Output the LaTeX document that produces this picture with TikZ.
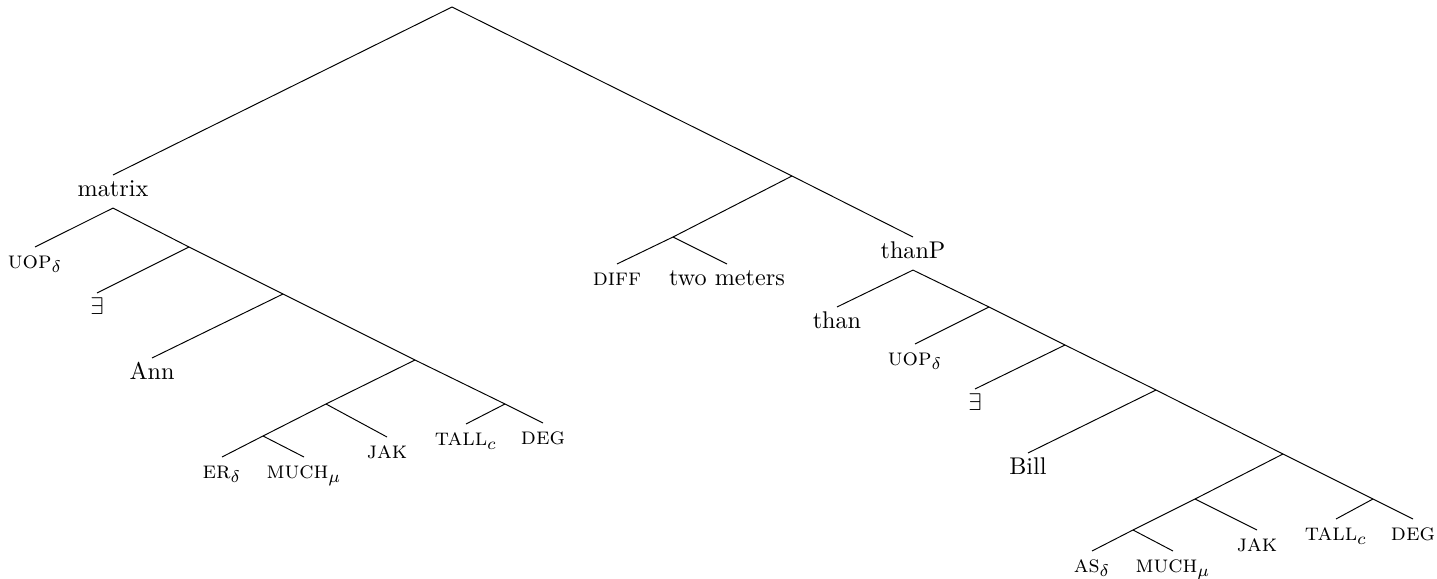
\documentclass[tikz,border=0pt]{standalone}
\begin{document}
\begin{tikzpicture}[x=0.414pt,y=-0.414pt,
  lab/.style={anchor=north,inner sep=2pt,text height=6.8pt,text depth=2.5pt},
  edge/.style={line width=0.4pt}]
\useasboundingbox (0,0) rectangle (1437,579);
% left part
\coordinate (r) at (452,7);
\node[lab] (matrix) at (113,175) {matrix};
\coordinate (n1) at (189,247);
\node[lab] (uopA) at (35,247) {\textsc{uop}$_\delta$};
\coordinate (n2) at (283,294);
\node[lab] (exA) at (97,293) {$\exists$};
\coordinate (n3) at (415,360);
\node[lab] (ann) at (152,358) {Ann};
\coordinate (n4) at (326,404);
\coordinate (n5) at (505,404);
\coordinate (n6) at (263,436);
\node[lab] (jakA) at (387,437) {\textsc{jak}};
\node[lab] (er) at (222,457) {\textsc{er}$_\delta$};
\node[lab] (muchA) at (304,457) {\textsc{much}$_\mu$};
\node[lab] (tallA) at (466,424) {\textsc{tall}$_c$};
\node[lab] (degA) at (543,423) {\textsc{deg}};
% right part
\coordinate (m1) at (792,176);
\coordinate (m2) at (673,237);
\node[lab] (diff) at (617,264) {\textsc{diff}};
\node[lab] (two) at (727,264) {two meters};
\node[lab] (thanP) at (913,237) {thanP};
\node[lab] (than) at (837,307) {than};
\coordinate (p1) at (989,307);
\node[lab] (uopB) at (915,344) {\textsc{uop}$_\delta$};
\coordinate (p2) at (1065,345);
\node[lab] (exB) at (975,389) {$\exists$};
\coordinate (p3) at (1156,390);
\node[lab] (bill) at (1028,453) {Bill};
\coordinate (p4) at (1283,454);
\coordinate (p5) at (1195,499);
\coordinate (p6) at (1373,499);
\coordinate (p7) at (1133,530);
\node[lab] (jakB) at (1257,530) {\textsc{jak}};
\node[lab] (as) at (1092,551) {\textsc{as}$_\delta$};
\node[lab] (muchB) at (1173,551) {\textsc{much}$_\mu$};
\node[lab] (tallB) at (1336,519) {\textsc{tall}$_c$};
\node[lab] (degB) at (1413,519) {\textsc{deg}};
% edges
\draw[edge] (r) -- (matrix.north);
\draw[edge] (r) -- (m1);
\draw[edge] (matrix.south) -- (uopA.north);
\draw[edge] (matrix.south) -- (n1);
\draw[edge] (n1) -- (exA.north);
\draw[edge] (n1) -- (n2);
\draw[edge] (n2) -- (ann.north);
\draw[edge] (n2) -- (n3);
\draw[edge] (n3) -- (n4);
\draw[edge] (n3) -- (n5);
\draw[edge] (n4) -- (n6);
\draw[edge] (n4) -- (jakA.north);
\draw[edge] (n6) -- (er.north);
\draw[edge] (n6) -- (muchA.north);
\draw[edge] (n5) -- (tallA.north);
\draw[edge] (n5) -- (degA.north);
\draw[edge] (m1) -- (m2);
\draw[edge] (m1) -- (thanP.north);
\draw[edge] (m2) -- (diff.north);
\draw[edge] (m2) -- (two.north);
\draw[edge] (thanP.south) -- (than.north);
\draw[edge] (thanP.south) -- (p1);
\draw[edge] (p1) -- (uopB.north);
\draw[edge] (p1) -- (p2);
\draw[edge] (p2) -- (exB.north);
\draw[edge] (p2) -- (p3);
\draw[edge] (p3) -- (bill.north);
\draw[edge] (p3) -- (p4);
\draw[edge] (p4) -- (p5);
\draw[edge] (p4) -- (p6);
\draw[edge] (p5) -- (p7);
\draw[edge] (p5) -- (jakB.north);
\draw[edge] (p7) -- (as.north);
\draw[edge] (p7) -- (muchB.north);
\draw[edge] (p6) -- (tallB.north);
\draw[edge] (p6) -- (degB.north);
\end{tikzpicture}
\end{document}
